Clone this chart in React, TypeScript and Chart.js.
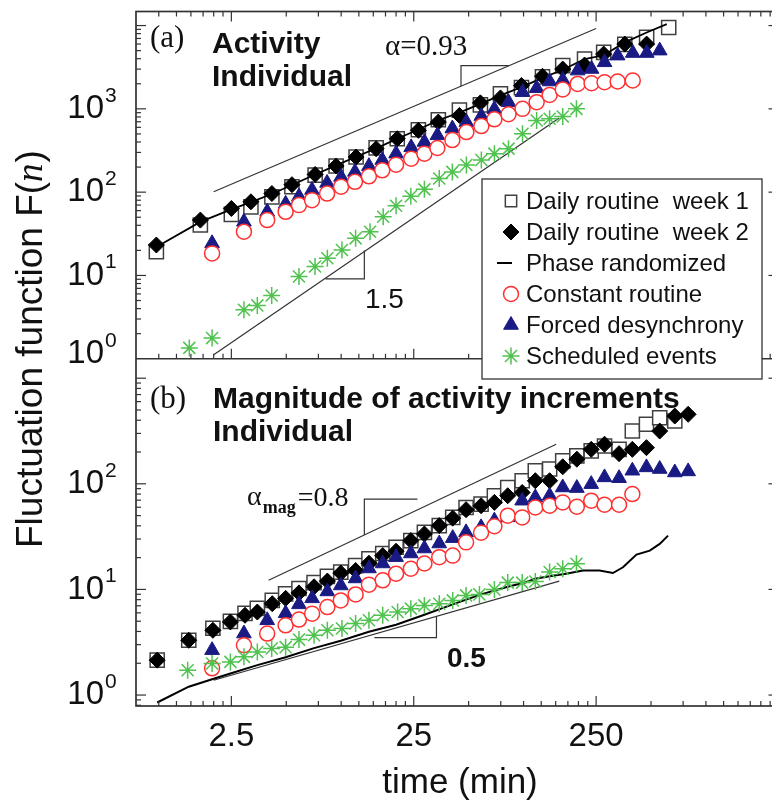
import React, { useEffect, useRef } from 'react';
import { Chart, registerables } from 'chart.js';
import { drawPoint } from 'chart.js/helpers';

Chart.register(...registerables);

const SANS = 'Arial, "Liberation Sans", Helvetica, sans-serif';
const SERIF = '"Times New Roman", "Liberation Serif", Times, serif';

// ---------- axis labels ----------
const X_LABEL_VALUES = [2.5, 25, 250];
const X_LABELS = ['2.5', '25', '250'];
const TOP_Y_EXPONENTS = [0, 1, 2, 3];
const BOTTOM_Y_EXPONENTS = [0, 1, 2];
const X_MIN = 0.75;
const X_MAX = 2500;
const TOP_Y_MIN = 1;
const TOP_Y_MAX = 14750;
const BOT_Y_MIN = 0.7875;
const BOT_Y_MAX = 1528;
const LEGEND_LABELS = [
  'Daily routine  week 1',
  'Daily routine  week 2',
  'Phase randomized',
  'Constant routine',
  'Forced desynchrony',
  'Scheduled events',
];

// ---------- (a) Activity ----------
const A_DAILY_X = [0.97, 1.69, 2.5, 3.2, 4.17, 5.37, 7.2, 9.38, 12.07, 15.55, 20.3, 26.5, 34.1, 44.5, 58, 74.7, 97.4, 127, 164, 216, 275, 359, 473, 625];
const A_WEEK1 = [19.3, 40.3, 54, 66.7, 87.9, 116, 160, 206, 264, 340, 438, 561, 741, 964, 1117, 1511, 1800, 2420, 3306, 3963, 4766, 5950, 7208, 9490];
const A_WEEK2 = [23.2, 46.2, 63.7, 76.6, 96.2, 123, 163, 206, 264, 332, 438, 552, 694, 834, 1180, 1354, 1905, 2461, 3006, 3357, 4547, 5989, 5989];
const A_PHASE_X = [0.97, 1.69, 2.5, 3.2, 4.17, 5.37, 7.2, 9.38, 12.07, 15.55, 20.3, 26.5, 34.1, 44.5, 58, 74.7, 97.4, 127, 164, 216, 275, 359, 473, 610];
const A_PHASE = [22, 44, 62, 76, 95, 122, 163, 210, 266, 336, 438, 565, 730, 900, 1150, 1450, 1820, 2350, 2950, 3960, 4400, 6280, 8260, 10400];
const A_CRFD_X = [1.96, 2.93, 3.93, 4.96, 5.87, 6.92, 8.37, 9.99, 11.9, 14.2, 16.8, 20, 24.2, 28.6, 33.7, 40.7, 48.6, 58.7, 69.2, 82.7, 98.7, 118, 139, 164, 198, 236, 278, 328, 397, 474, 558];
const A_FORCED = [24.3, 44.1, 58.1, 72.4, 88.6, 106, 129, 152, 175, 205, 243, 290, 345, 400, 481, 580, 693, 818, 991, 1202, 1585, 1770, 2128, 2222, 2878, 3008, 3620, 4355, 4677, 4677, 5000];
const A_CONSTANT = [18.4, 33.5, 46.2, 58.1, 69.9, 80.2, 96.2, 116, 133, 155, 183, 214, 252, 290, 339, 422, 526, 621, 749, 862, 1000, 1202, 1469, 1706, 1991, 2030, 2085, 2128, 2188];
const A_SCHED_X = [1.47, 1.96, 2.93, 3.47, 4.16, 5.87, 7.19, 8.4, 10.1, 12, 14.4, 17, 20, 24.1, 28.6, 34.5, 40.7, 48.6, 58.7, 69.2, 82.7, 98.7, 118, 139, 164, 195];
const A_SCHED = [1.35, 1.77, 3.88, 4.37, 5.75, 9.7, 12.8, 16.1, 20.2, 27.9, 33.5, 50.7, 68.6, 89.1, 108, 146, 175, 212, 243, 290, 333, 502, 726, 759, 811, 1000];

// ---------- (b) Magnitude of activity increments ----------
const B_DAILY_X = [0.98, 1.46, 1.98, 2.47, 2.97, 3.47, 4.19, 4.96, 5.87, 7.1, 8.4, 9.95, 12, 14.2, 16.9, 20, 24.1, 28.6, 34.5, 40.9, 48.4, 58.5, 69.2, 81.9, 98.3, 116, 139, 164, 196, 235, 278, 334, 395, 472, 558, 675, 799];
const B_WEEK1 = [2.14, 3.3, 4.29, 4.99, 5.94, 6.62, 7.87, 9.07, 10.2, 11.6, 13.3, 14.6, 16.8, 19.5, 21.9, 25.1, 29, 34.7, 40.2, 48.1, 59.7, 64.3, 77.1, 92.3, 107, 133, 138, 165, 184, 205, 228, 212, 316, 366, 422, 393];
const B_WEEK2 = [2.14, 3.3, 4.1, 4.92, 5.69, 6.11, 7.33, 8.23, 9.27, 10.6, 12, 14.3, 15.1, 17.7, 20.9, 23, 29, 33.5, 40.2, 47.3, 56.9, 62, 66.7, 77.1, 82.8, 107, 107, 145, 171, 212, 237, 193, 212, 220, 316, 438, 455];
const B_PHASE_X = [0.98, 1.46, 1.98, 2.47, 3.47, 4.96, 7.1, 9.95, 14.2, 20, 28.6, 40.9, 58.5, 81.9, 103, 116, 139, 171, 212, 261, 309, 351, 416, 492, 558, 620];
const B_PHASE = [0.85, 1.2, 1.42, 1.6, 1.92, 2.28, 2.78, 3.27, 3.97, 4.63, 5.75, 7.22, 8.97, 10.6, 11.7, 12.6, 13.3, 14.1, 15.1, 15.1, 14.3, 16.2, 21.4, 23.3, 27, 32.3];
const B_CRFD_X = [1.96, 2.93, 3.93, 4.96, 5.87, 6.93, 8.4, 9.95, 12, 14.2, 16.9, 20, 24.1, 28.6, 34.5, 40.9, 48.4, 58.5, 69.2, 81.9, 98.3, 116, 139, 164, 196, 235, 278, 334, 395, 472, 558, 675, 799];
const B_FORCED = [2.66, 3.82, 5.1, 5.94, 7.22, 8.23, 9.57, 10.9, 12.7, 15.8, 17.6, 20.2, 21.9, 24.4, 27.2, 30.6, 34.7, 38.7, 44.8, 48.1, 69.2, 74.3, 77.1, 92.3, 91.1, 99.3, 115, 113, 133, 143, 138, 128, 131];
const B_CONSTANT = [1.79, 2.96, 3.82, 4.57, 5.18, 5.9, 6.81, 7.87, 8.97, 11.1, 12.2, 14.1, 15.7, 17.6, 20.2, 20.9, 27.9, 34.5, 39.7, 49.9, 48.1, 59.7, 62, 66.7, 60.7, 69.2, 63.4, 63.4, 80];
const B_SCHED_X = [1.44, 1.96, 2.47, 2.93, 3.47, 4.16, 4.96, 5.87, 7.1, 8.4, 10.1, 12, 14.2, 16.9, 20.4, 24.1, 28.6, 34.5, 40.9, 48.4, 57.3, 69.2, 81.9, 98.3, 116, 139, 164, 195];
const B_SCHED = [1.72, 1.99, 2.06, 2.3, 2.56, 2.76, 2.84, 3.35, 3.68, 4.1, 4.26, 4.75, 5.1, 5.69, 6.11, 6.58, 7.06, 7.33, 7.87, 8.78, 8.97, 10, 11.6, 11.6, 11.9, 14.6, 15.7, 17.5];

// ---------- guide lines (slope references) ----------
const A_GUIDE1_X = [2, 250];
const A_GUIDE1_Y = [101, 9230];
const A_BRACKET1_X = [45.4, 45.4, 83];
const A_BRACKET1_Y = [1872, 3305, 3305];
const A_GUIDE2_X = [2, 157];
const A_GUIDE2_Y = [1.12, 779];
const A_BRACKET2_X = [8.2, 13.4, 13.4];
const A_BRACKET2_Y = [9.1, 9.1, 19.9];
const B_GUIDE1_X = [4, 151];
const B_GUIDE1_Y = [12.2, 237];
const B_BRACKET1_X = [13.4, 13.4, 26.2];
const B_BRACKET1_Y = [32.8, 71.7, 71.7];
const B_GUIDE2_X = [2, 157];
const B_GUIDE2_Y = [1.38, 12];
const B_BRACKET2_X = [15.2, 33.3, 33.3];
const B_BRACKET2_Y = [3.5, 3.5, 5.5];

// ---------- styles ----------
const SQUARE = { pointStyle: 'rect', pointRadius: 10, pointBackgroundColor: '#ffffff', pointBorderColor: '#404040', pointBorderWidth: 1.5 };
const DIAMOND = { pointStyle: 'rectRot', pointRadius: 8, pointBackgroundColor: '#000000', pointBorderColor: '#000000', pointBorderWidth: 1 };
const CIRCLE = { pointStyle: 'circle', pointRadius: 7.5, pointBackgroundColor: '#ffffff', pointBorderColor: '#ff3030', pointBorderWidth: 1.5 };
const TRIANGLE = { pointStyle: 'triangle', pointRadius: 8.5, pointBackgroundColor: '#1a1a84', pointBorderColor: '#1a1a84', pointBorderWidth: 1 };
const STAR = { pointStyle: 'star', pointRadius: 8.5, pointBackgroundColor: '#4fc24f', pointBorderColor: '#4fc24f', pointBorderWidth: 1.5 };

const pts = (xs: number[], ys: number[]) => ys.map((y, i) => ({ x: xs[i], y }));

const xTickValues: number[] = [];
for (let d = -1; d <= 3; d++) {
  for (let k = 1; k <= 9; k++) {
    const v = 2.5 * k * Math.pow(10, d);
    if (v >= X_MIN * 0.999 && v <= X_MAX * 1.001) xTickValues.push(v);
  }
}
const labelIndex = (v: number) => X_LABEL_VALUES.findIndex((l) => Math.abs(l - v) < 1e-6 * l);

function markerSet(style: any, order: number) {
  return { ...style, showLine: false, order, pointHoverRadius: style.pointRadius };
}
function lineSet(xs: number[], ys: number[], axis: string, color: string, width: number, order: number) {
  return { data: pts(xs, ys), yAxisID: axis, showLine: true, pointRadius: 0, pointHoverRadius: 0, borderColor: color, borderWidth: width, tension: 0, order };
}

const decorations = {
  id: 'decorations',
  afterDraw(chart: any) {
    const ctx: CanvasRenderingContext2D = chart.ctx;
    const xs = chart.scales.x;
    const yT = chart.scales.yT;
    const yB = chart.scales.yB;
    const L = chart.chartArea.left;
    const R = chart.chartArea.right;
    const T = yT.top;
    const M = yT.bottom;
    const B = yB.bottom;
    const seg = (x1: number, y1: number, x2: number, y2: number) => {
      ctx.beginPath();
      ctx.moveTo(x1, y1);
      ctx.lineTo(x2, y2);
      ctx.stroke();
    };
    ctx.save();
    ctx.strokeStyle = '#333';
    ctx.lineWidth = 1.2;
    // x ticks (inward)
    for (const v of xTickValues) {
      const p = xs.getPixelForValue(v);
      if (p < L + 1 || p > R - 1) continue;
      const len = labelIndex(v) >= 0 ? 10 : 5;
      seg(p, T, p, T + len);
      seg(p, M, p, M - len);
      seg(p, B, p, B - len);
    }
    // y ticks (inward, left and right)
    const yTicks = (scale: any, lo: number, hi: number) => {
      for (let e = Math.floor(Math.log10(lo)); e <= Math.ceil(Math.log10(hi)); e++) {
        for (let k = 1; k <= 9; k++) {
          const v = k * Math.pow(10, e);
          if (v <= lo || v >= hi) continue;
          const p = scale.getPixelForValue(v);
          const len = k === 1 ? 10 : 5;
          seg(L, p, L + len, p);
          seg(R, p, R - len, p);
        }
      }
    };
    yTicks(yT, TOP_Y_MIN, TOP_Y_MAX);
    yTicks(yB, BOT_Y_MIN, BOT_Y_MAX);
    // frame
    ctx.lineWidth = 1.7;
    ctx.strokeRect(L, T, R - L, B - T);
    seg(L, M, R, M);

    // y tick labels 10^n
    ctx.fillStyle = '#111';
    const pow = (e: number, p: number) => {
      ctx.font = `33px ${SANS}`;
      ctx.textAlign = 'right';
      ctx.textBaseline = 'middle';
      ctx.fillText('10', 104, p);
      ctx.font = `21px ${SANS}`;
      ctx.textAlign = 'left';
      ctx.textBaseline = 'alphabetic';
      ctx.fillText(String(e), 105, p - 7);
    };
    TOP_Y_EXPONENTS.forEach((e) => pow(e, yT.getPixelForValue(Math.pow(10, e)) - (e === 0 ? 5 : 0)));
    BOTTOM_Y_EXPONENTS.forEach((e) => pow(e, yB.getPixelForValue(Math.pow(10, e))));

    const text = (s: string, x: number, y: number, font: string, align: CanvasTextAlign = 'left') => {
      ctx.font = font;
      ctx.textAlign = align;
      ctx.textBaseline = 'alphabetic';
      ctx.fillText(s, x, y);
      return ctx.measureText(s).width;
    };

    // axis titles
    ctx.save();
    ctx.translate(42, 548);
    ctx.rotate(-Math.PI / 2);
    let w = text('Fluctuation function F(', 0, 0, `37px ${SANS}`);
    w += text('n', w, 0, `italic 37px ${SERIF}`);
    text(')', w + 1, 0, `37px ${SANS}`);
    ctx.restore();
    text('time (min)', 460, 793, `35px ${SANS}`, 'center');

    // panel annotations
    text('(a)', 150, 47, `31px ${SERIF}`);
    text('Activity', 212, 53, `bold 30px ${SANS}`);
    text('Individual', 212, 86, `bold 30px ${SANS}`);
    text('\u03b1=0.93', 385, 55, `29px ${SERIF}`);
    text('1.5', 365, 308, `28px ${SANS}`);
    text('(b)', 150, 408, `31px ${SERIF}`);
    text('Magnitude of activity increments', 213, 408, `bold 30px ${SANS}`);
    text('Individual', 213, 441, `bold 30px ${SANS}`);
    const aw = text('\u03b1', 247, 505, `28px ${SERIF}`);
    const mw = text('mag', 247 + aw + 1, 513, `bold 18px ${SERIF}`);
    text('=0.8', 247 + aw + mw + 3, 506, `28px ${SERIF}`);
    text('0.5', 447, 667, `bold 28px ${SANS}`);

    // legend
    const lx = 482, ly = 179, lw = 280, lh = 200;
    ctx.fillStyle = '#fff';
    ctx.fillRect(lx, ly, lw, lh);
    ctx.strokeStyle = '#333';
    ctx.lineWidth = 1.3;
    ctx.strokeRect(lx, ly, lw, lh);
    const styles: any[] = [SQUARE, DIAMOND, null, CIRCLE, TRIANGLE, STAR];
    LEGEND_LABELS.forEach((label, i) => {
      const base = 209 + i * 31;
      const cy = base - 8;
      const st = styles[i];
      ctx.save();
      if (st) {
        ctx.fillStyle = st.pointBackgroundColor;
        ctx.strokeStyle = st.pointBorderColor;
        ctx.lineWidth = st.pointBorderWidth;
        const r = st.pointStyle === 'rect' ? 8 : st.pointRadius;
        drawPoint(ctx, { pointStyle: st.pointStyle, radius: r, rotation: 0, borderWidth: st.pointBorderWidth } as any, 511, cy);
      } else {
        ctx.strokeStyle = '#000';
        ctx.lineWidth = 2;
        seg(497, cy, 512, cy);
      }
      ctx.restore();
      ctx.fillStyle = '#111';
      text(label, 526, base, `24px ${SANS}`);
    });
    ctx.restore();
  },
};

export default function App() {
  const ref = useRef<HTMLCanvasElement>(null);
  useEffect(() => {
    const canvas = ref.current;
    if (!canvas) return;
    const datasets: any[] = [
      // (a)
      lineSet(A_GUIDE1_X, A_GUIDE1_Y, 'yT', '#333', 1.2, 10),
      lineSet(A_BRACKET1_X, A_BRACKET1_Y, 'yT', '#333', 1.2, 10),
      lineSet(A_GUIDE2_X, A_GUIDE2_Y, 'yT', '#333', 1.2, 10),
      lineSet(A_BRACKET2_X, A_BRACKET2_Y, 'yT', '#333', 1.2, 10),
      { label: LEGEND_LABELS[0], data: pts(A_DAILY_X, A_WEEK1), yAxisID: 'yT', ...markerSet(SQUARE, 8) },
      lineSet(A_PHASE_X, A_PHASE, 'yT', '#000', 1.8, 7),
      { label: LEGEND_LABELS[1], data: pts(A_DAILY_X, A_WEEK2), yAxisID: 'yT', ...markerSet(DIAMOND, 6) },
      { label: LEGEND_LABELS[4], data: pts(A_CRFD_X, A_FORCED), yAxisID: 'yT', ...markerSet(TRIANGLE, 5) },
      { label: LEGEND_LABELS[3], data: pts(A_CRFD_X, A_CONSTANT), yAxisID: 'yT', ...markerSet(CIRCLE, 4) },
      { label: LEGEND_LABELS[5], data: pts(A_SCHED_X, A_SCHED), yAxisID: 'yT', ...markerSet(STAR, 3) },
      // (b)
      lineSet(B_GUIDE1_X, B_GUIDE1_Y, 'yB', '#333', 1.2, 10),
      lineSet(B_BRACKET1_X, B_BRACKET1_Y, 'yB', '#333', 1.2, 10),
      lineSet(B_GUIDE2_X, B_GUIDE2_Y, 'yB', '#333', 1.2, 10),
      lineSet(B_BRACKET2_X, B_BRACKET2_Y, 'yB', '#333', 1.2, 10),
      { label: LEGEND_LABELS[0], data: pts(B_DAILY_X, B_WEEK1), yAxisID: 'yB', ...markerSet(SQUARE, 8) },
      lineSet(B_PHASE_X, B_PHASE, 'yB', '#000', 2, 7),
      { label: LEGEND_LABELS[1], data: pts(B_DAILY_X, B_WEEK2), yAxisID: 'yB', ...markerSet(DIAMOND, 6) },
      { label: LEGEND_LABELS[4], data: pts(B_CRFD_X, B_FORCED), yAxisID: 'yB', ...markerSet(TRIANGLE, 5) },
      { label: LEGEND_LABELS[3], data: pts(B_CRFD_X, B_CONSTANT), yAxisID: 'yB', ...markerSet(CIRCLE, 4) },
      { label: LEGEND_LABELS[5], data: pts(B_SCHED_X, B_SCHED), yAxisID: 'yB', ...markerSet(STAR, 3) },
    ];
    const chart = new Chart(canvas, {
      type: 'scatter',
      data: { datasets },
      options: {
        responsive: false,
        animation: false,
        events: [],
        layout: { padding: { top: 9, right: 11.5, left: 0, bottom: 0 } },
        plugins: { legend: { display: false }, tooltip: { enabled: false } },
        scales: {
          x: {
            type: 'logarithmic',
            position: 'bottom',
            min: X_MIN,
            max: X_MAX,
            grid: { display: false },
            border: { display: false },
            afterBuildTicks: (s: any) => {
              s.ticks = xTickValues.map((v) => ({ value: v }));
            },
            afterFit: (s: any) => {
              s.height = 96;
            },
            ticks: {
              autoSkip: false,
              maxRotation: 0,
              minRotation: 0,
              padding: 3,
              color: '#111',
              font: { family: SANS, size: 33 },
              callback: (v: any) => {
                const i = labelIndex(Number(v));
                return i >= 0 ? X_LABELS[i] : '';
              },
            },
          },
          // stacked panels: the later-defined scale is placed on top
          yB: {
            type: 'logarithmic',
            position: 'left',
            stack: 'panels',
            stackWeight: 1,
            min: BOT_Y_MIN,
            max: BOT_Y_MAX,
            grid: { display: false },
            border: { display: false },
            ticks: { display: false },
            afterFit: (s: any) => {
              s.width = 136;
            },
          },
          yT: {
            type: 'logarithmic',
            position: 'left',
            stack: 'panels',
            stackWeight: 1,
            min: TOP_Y_MIN,
            max: TOP_Y_MAX,
            grid: { display: false },
            border: { display: false },
            ticks: { display: false },
            afterFit: (s: any) => {
              s.width = 136;
            },
          },
        },
      } as any,
      plugins: [decorations],
    });
    return () => chart.destroy();
  }, []);
  return (
    <div style={{ position: 'absolute', left: 0, top: 0, width: 772, height: 802, overflow: 'hidden', background: '#fff' }}>
      <canvas ref={ref} width={790} height={802} style={{ display: 'block' }} />
    </div>
  );
}
